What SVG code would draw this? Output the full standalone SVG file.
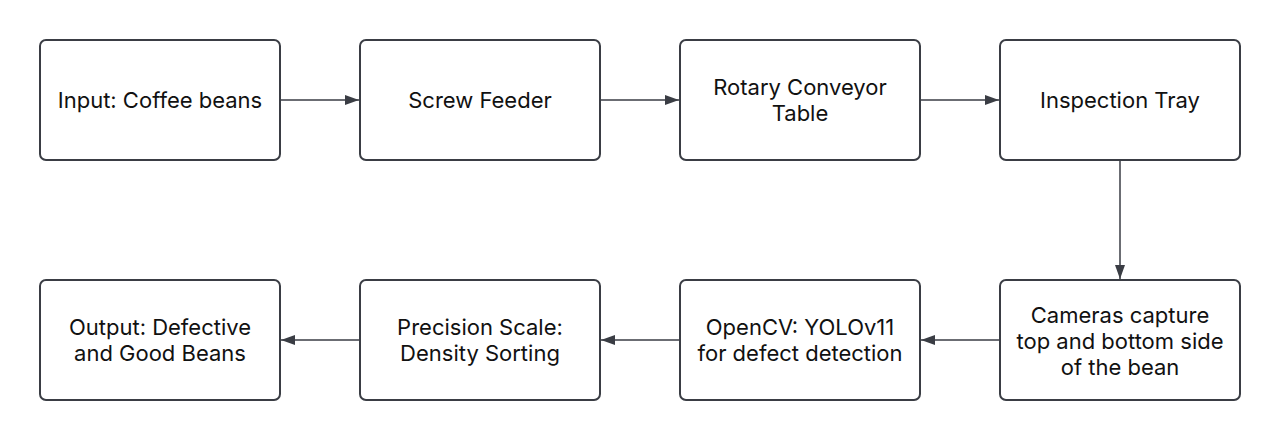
<svg xmlns="http://www.w3.org/2000/svg" width="1280" height="440" viewBox="0 0 1280 440">
<style>
.box{fill:#ffffff;stroke:#3a3d44;stroke-width:2}
.lbl{font-family:Inter,"Liberation Sans",sans-serif;font-size:22px;fill:#111111;text-anchor:middle}
.edge{stroke:#3a3d44;stroke-width:1.5;fill:none}
</style>
<defs>
<marker id="ah" viewBox="0 0 14 10" refX="14" refY="5" markerWidth="14" markerHeight="10" markerUnits="userSpaceOnUse" orient="auto">
<path d="M0,0 L14,5 L0,10 Z" fill="#3a3d44"/>
</marker>
</defs>
<rect width="1280" height="440" fill="#ffffff"/>
<g id="connectors">
<path class="edge" d="M281,100 L359,100" marker-end="url(#ah)"/>
<path class="edge" d="M601,100 L679,100" marker-end="url(#ah)"/>
<path class="edge" d="M921,100 L999,100" marker-end="url(#ah)"/>
<path class="edge" d="M1120,161 L1120,279" marker-end="url(#ah)"/>
<path class="edge" d="M999,340 L921,340" marker-end="url(#ah)"/>
<path class="edge" d="M679,340 L601,340" marker-end="url(#ah)"/>
<path class="edge" d="M359,340 L281,340" marker-end="url(#ah)"/>
</g>
<g id="n1"><rect class="box" x="40" y="40" width="240" height="120" rx="6"/><text class="lbl" x="160" y="108">Input: Coffee beans</text></g>
<g id="n2"><rect class="box" x="360" y="40" width="240" height="120" rx="6"/><text class="lbl" x="480" y="108">Screw Feeder</text></g>
<g id="n3"><rect class="box" x="680" y="40" width="240" height="120" rx="6"/><text class="lbl" x="800" y="95">Rotary Conveyor</text><text class="lbl" x="800" y="121">Table</text></g>
<g id="n4"><rect class="box" x="1000" y="40" width="240" height="120" rx="6"/><text class="lbl" x="1120" y="108">Inspection Tray</text></g>
<g id="n5"><rect class="box" x="1000" y="280" width="240" height="120" rx="6"/><text class="lbl" x="1120" y="323">Cameras capture</text><text class="lbl" x="1120" y="349">top and bottom side</text><text class="lbl" x="1120" y="375">of the bean</text></g>
<g id="n6"><rect class="box" x="680" y="280" width="240" height="120" rx="6"/><text class="lbl" x="800" y="335">OpenCV: YOLOv11</text><text class="lbl" x="800" y="361">for defect detection</text></g>
<g id="n7"><rect class="box" x="360" y="280" width="240" height="120" rx="6"/><text class="lbl" x="480" y="335">Precision Scale:</text><text class="lbl" x="480" y="361">Density Sorting</text></g>
<g id="n8"><rect class="box" x="40" y="280" width="240" height="120" rx="6"/><text class="lbl" x="160" y="335">Output: Defective</text><text class="lbl" x="160" y="361">and Good Beans</text></g>
</svg>
